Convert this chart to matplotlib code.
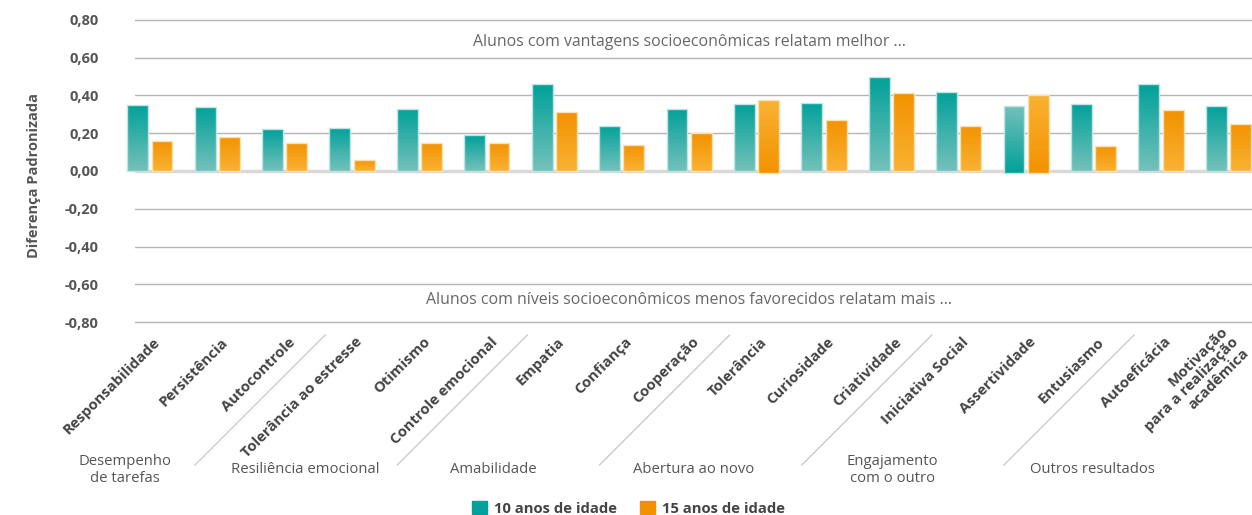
import matplotlib.pyplot as plt
import numpy as np
from matplotlib.colors import LinearSegmentedColormap
from matplotlib.patches import Patch
from matplotlib import transforms

plt.rcParams['font.family'] = ['Open Sans', 'DejaVu Sans']

# Dados
categorias = ['Responsabilidade', 'Persistência', 'Autocontrole', 'Tolerância ao estresse',
              'Otimismo', 'Controle emocional', 'Empatia', 'Confiança', 'Cooperação',
              'Tolerância', 'Curiosidade', 'Criatividade', 'Iniciativa Social',
              'Assertividade', 'Entusiasmo', 'Autoeficácia',
              'Motivação\npara a realização\nacadêmica']
idade_10 = [0.35, 0.34, 0.22, 0.23, 0.33, 0.19, 0.46, 0.24, 0.33,
            0.355, 0.36, 0.495, 0.42, 0.345, 0.355, 0.46, 0.345]
idade_15 = [0.16, 0.18, 0.15, 0.06, 0.15, 0.15, 0.31, 0.14, 0.20,
            0.375, 0.27, 0.41, 0.24, 0.40, 0.13, 0.32, 0.25]
# barras com gradiente invertido (índice, série)
invertidos = [(9, 1), (13, 0), (13, 1)]
grupos = ['Desempenho\nde tarefas', 'Resiliência emocional', 'Amabilidade',
          'Abertura ao novo', 'Engajamento\ncom o outro', 'Outros resultados']
tamanho_grupos = [3, 3, 3, 3, 3, 2]
yticks = [-0.8, -0.6, -0.4, -0.2, 0.0, 0.2, 0.4, 0.6, 0.8]
series = ['10 anos de idade', '15 anos de idade']

teal = '#00a19a'
laranja = '#f39200'
cm_teal = LinearSegmentedColormap.from_list('t', ['#75c1bb', teal])
cm_lar = LinearSegmentedColormap.from_list('l', ['#f9b233', laranja])

fig = plt.figure(figsize=(12.52, 5.15), dpi=100)
ax = fig.add_axes([135 / 1252, 0.367, 1117 / 1252, 0.602])

x = np.arange(len(categorias))
larg = 0.31
desl = 0.18
grad = np.linspace(0, 1, 256).reshape(-1, 1)

for s, (vals, cor, cm, borda) in enumerate([(idade_10, teal, cm_teal, '#bfe4e1'),
                                            (idade_15, laranja, cm_lar, '#fde0b0')]):
    bases = [-0.01 if (i, s) in invertidos else 0 for i in range(len(vals))]
    alturas = [v - b for v, b in zip(vals, bases)]
    pos = x - desl if s == 0 else x + desl
    barras = ax.bar(pos, alturas, width=larg, bottom=bases, facecolor='none',
                    edgecolor=borda, linewidth=1, zorder=3, clip_on=False)
    for i, b in enumerate(barras):
        mapa = cm.reversed() if (i, s) in invertidos else cm
        im = ax.imshow(grad, extent=[b.get_x(), b.get_x() + b.get_width(),
                                     b.get_y(), b.get_y() + b.get_height()],
                       origin='lower', aspect='auto', cmap=mapa, zorder=2)
        im.set_clip_path(b)

ax.set_xlim(-0.22, 16.35)
ax.set_ylim(-0.82, 0.82)

# grade
for t in yticks:
    if t == 0:
        ax.axhline(0, color='#d9d9d9', lw=2.5, zorder=1)
    else:
        ax.axhline(t, color='#b5b5b5', lw=1, zorder=1)

ax.set_yticks(yticks)
ax.set_yticklabels([f'{t:.2f}'.replace('.', ',') for t in yticks])
ax.tick_params(axis='y', length=0, pad=26, labelsize=10.5, labelcolor='#555555')
for lb in ax.get_yticklabels():
    lb.set_fontweight('bold')
ax.set_xticks([])
for sp in ax.spines.values():
    sp.set_visible(False)

fig.text(0.027, 0.66, 'Diferença Padronizada', rotation=90, ha='center', va='center',
         fontsize=10.5, fontweight='bold', color='#555555')

ax.text(8, 0.683, 'Alunos com vantagens socioeconômicas relatam melhor ...',
        ha='center', va='center', fontsize=11.4, color='#666666')
ax.text(8, -0.683, 'Alunos com níveis socioeconômicos menos favorecidos relatam mais ...',
        ha='center', va='center', fontsize=11.4, color='#666666')

# rótulos das categorias
misto = transforms.blended_transform_factory(ax.transData, fig.transFigure)
for i, cat in enumerate(categorias):
    ax.text(i + 0.12, 0.34, cat, transform=misto, rotation=45, ha='right', va='center',
            rotation_mode='anchor', fontsize=10.7, fontweight='bold', color='#444444',
            multialignment='right', linespacing=1.1, clip_on=False)

# separadores e grupos
limites = np.cumsum(tamanho_grupos)[:-1] - 0.5
for b in limites:
    topo = b + 0.1
    ax.plot([topo - 1.93, topo], [0.097, 0.3495], transform=misto, color='#cccccc',
            lw=1, clip_on=False)

grupos_x = [-0.37, 2.31, 5.10, 8.07, 11.02, 13.99]
for gx, g in zip(grupos_x, grupos):
    ax.text(gx, 0.0874, g, transform=misto, ha='center', va='center', fontsize=10.7,
            color='#555555', linespacing=1.1, clip_on=False)

fig.legend(handles=[Patch(color=teal), Patch(color=laranja)], labels=series,
           loc='center', bbox_to_anchor=(0.502, 0.013), ncol=2, frameon=False,
           prop={'weight': 'bold', 'size': 10.7}, labelcolor='#444444',
           handlelength=1, handleheight=1, handletextpad=0.5, columnspacing=1.5)

fig.savefig('out.png', dpi=100)
